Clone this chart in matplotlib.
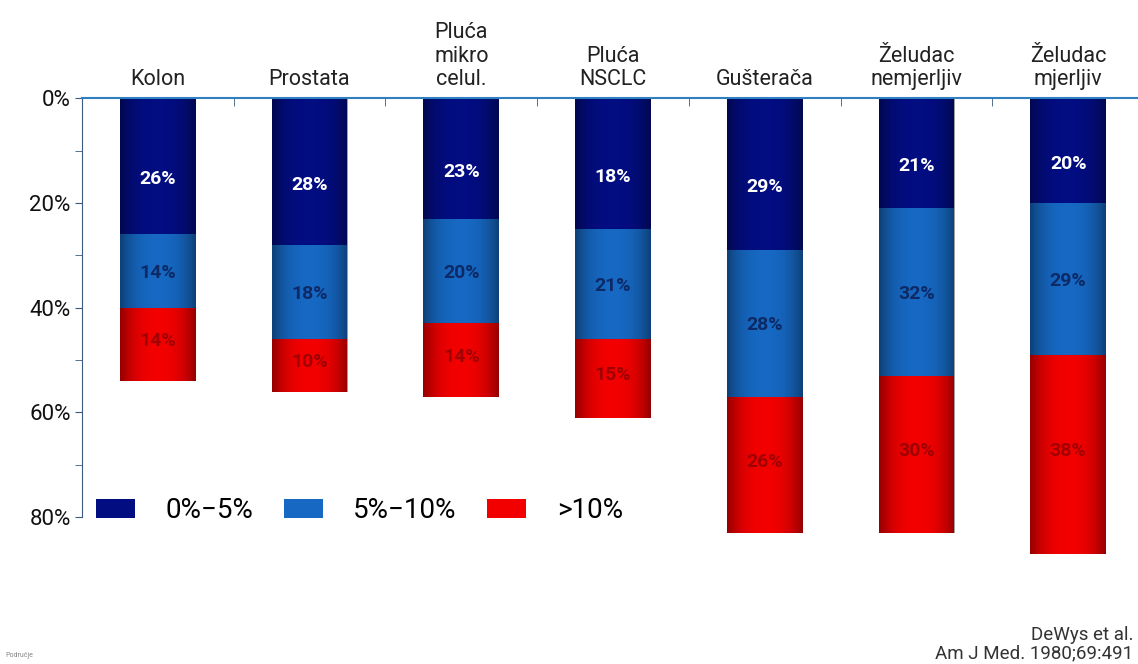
import matplotlib.pyplot as plt
import numpy as np

plt.rcParams['font.family'] = ['Roboto', 'DejaVu Sans']

# ─── data ─────────────────────────────────────────────────────────────
categories = ["Kolon", "Prostata", "Pluća\nmikro\ncelul.", "Pluća\nNSCLC",
              "Gušterača", "Želudac\nnemjerljiv", "Želudac\nmjerljiv"]
series = ["0%\u22125%", "5%\u221210%", ">10%"]

low = [26, 28, 23, 25, 29, 21, 20]      # drawn heights
mid = [14, 18, 20, 21, 28, 32, 29]
high = [14, 10, 14, 15, 26, 30, 38]

low_lbl = ["26%", "28%", "23%", "18%", "29%", "21%", "20%"]
mid_lbl = ["14%", "18%", "20%", "21%", "28%", "32%", "29%"]
high_lbl = ["14%", "10%", "14%", "15%", "26%", "30%", "38%"]

colors = ["#030d82", "#1668c2", "#f20000"]
txt_colors = ["white", "#0d2a66", "#a00000"]
lbl_shift = [2.5, 0.3, -0.6]

# ─── plot ─────────────────────────────────────────────────────────────
fig = plt.figure(figsize=(11.38, 6.64), dpi=100)
ax = fig.add_axes([0.072, 0.158, 0.928, 0.694])

x = np.arange(len(categories))
w = 0.5

# horizontal shading for the cylinder-ish look of the bars
t = np.linspace(-1, 1, 64)
shade = np.zeros((1, 64, 4))
shade[..., 3] = 0.38 * np.abs(t) ** 2.5

bottoms = np.zeros(len(categories))
for vals, lbls, c, tc, dy, name in zip([low, mid, high], [low_lbl, mid_lbl, high_lbl],
                                       colors, txt_colors, lbl_shift, series):
    vals = np.array(vals, dtype=float)
    bars = ax.bar(x, vals, w, bottom=bottoms, color=c, edgecolor="none", label=name, zorder=2)
    for p in bars:
        im = ax.imshow(shade, extent=[p.get_x(), p.get_x() + p.get_width(),
                                      p.get_y() + p.get_height(), p.get_y()],
                       aspect="auto", zorder=2.5, interpolation="bilinear")
        im.set_clip_path(p)
    for xi, b, v, lab in zip(x, bottoms, vals, lbls):
        ax.text(xi, b + v / 2 + dy, lab, ha="center", va="center", fontsize=14,
                fontweight="bold", color=tc, zorder=3)
    bottoms += vals

ax.set_xlim(-0.5, 6.46)
ax.set_ylim(88, 0)

# y axis
ax.set_yticks([0, 20, 40, 60, 80])
ax.set_yticklabels(["0%", "20%", "40%", "60%", "80%"], fontsize=16, color="#111111")
ax.set_yticks([10, 30, 50, 70], minor=True)
ax.tick_params(axis="y", which="both", direction="out", length=5, color="#3a5a80", pad=3)

# top axis with category names
ax.xaxis.set_ticks_position("top")
ax.set_xticks(x)
ax.set_xticklabels(categories, fontsize=15.5, linespacing=1.15, color="#222222")
ax.tick_params(axis="x", which="major", length=0, pad=6)
ax.set_xticks(x[:-1] + 0.5, minor=True)
ax.tick_params(axis="x", which="minor", direction="in", length=6, color="#3a5a80")

for s in ["right", "bottom"]:
    ax.spines[s].set_visible(False)
ax.spines["top"].set_color("#2f7fc1")
ax.spines["top"].set_linewidth(1.5)
ax.spines["left"].set_color("#3a5a80")
ax.spines["left"].set_bounds(0, 80)

ax.legend(loc="center left", bbox_to_anchor=(0.0, 0.105), ncol=3, frameon=False,
          fontsize=20, handlelength=1.4, handleheight=0.7, columnspacing=1.1,
          handletextpad=1.1, borderpad=0.2, borderaxespad=0.3)

fig.text(0.996, 0.030, "DeWys et al.\nAm J Med. 1980;69:491", ha="right", va="center",
         fontsize=13.5, color="#333333", linespacing=1.0)
fig.text(0.005, 0.01, "Područje", fontsize=5, color="#888888")

fig.savefig("out.png", dpi=100)
